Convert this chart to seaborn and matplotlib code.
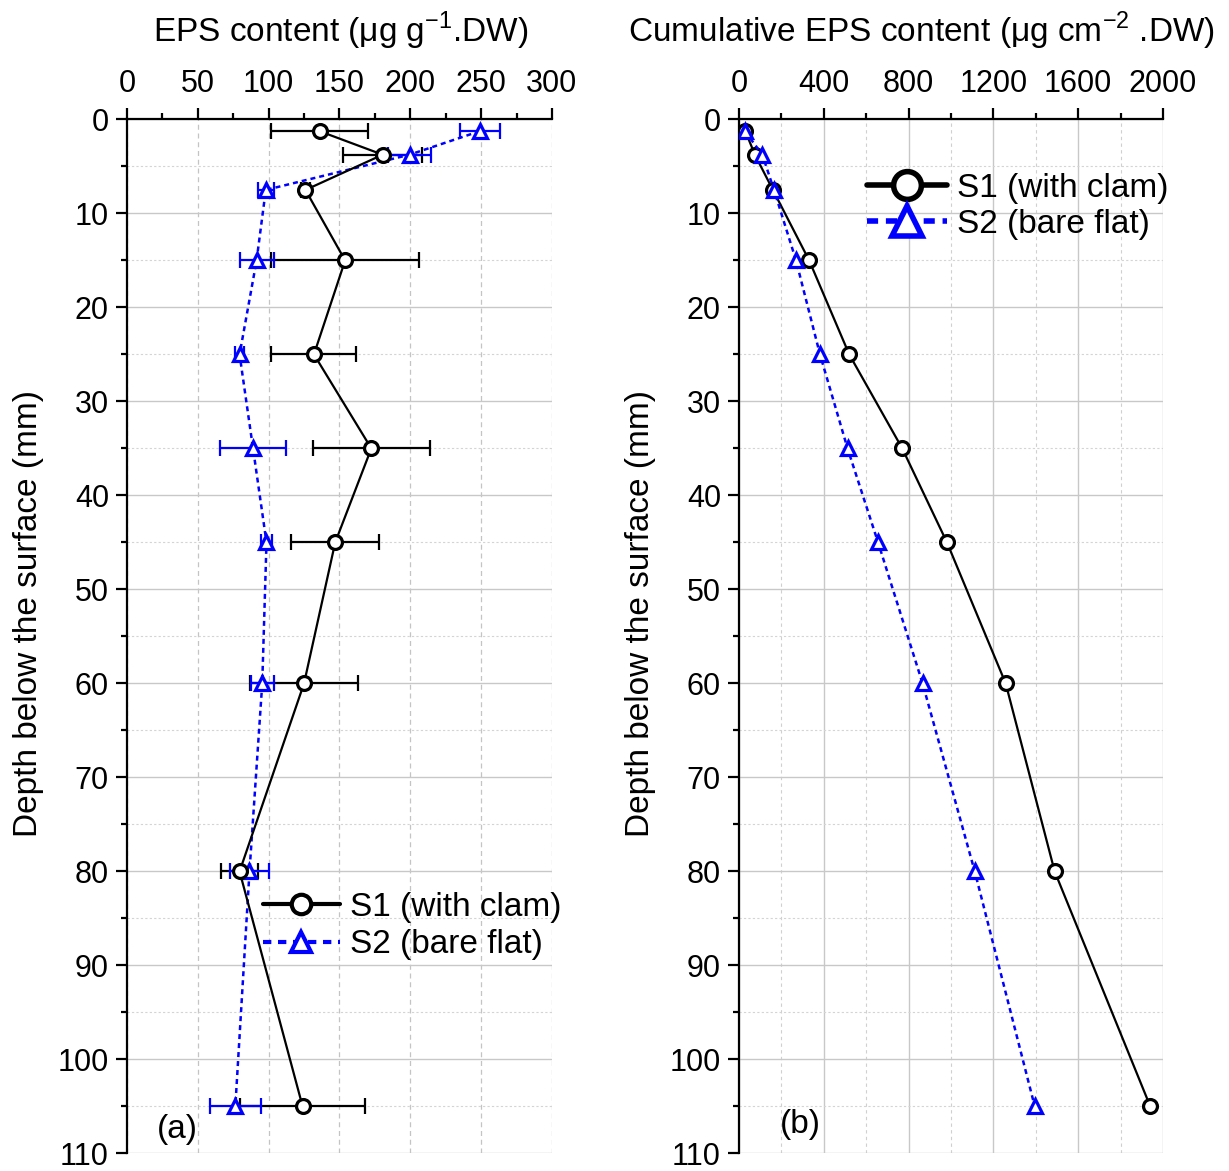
import numpy as np
import pandas as pd
import matplotlib
matplotlib.use("Agg")
import matplotlib.pyplot as plt
from matplotlib.lines import Line2D
from matplotlib.ticker import MultipleLocator
import seaborn as sns

# depth of each sediment layer midpoint (mm)
depth = [1.25, 3.75, 7.5, 15, 25, 35, 45, 60, 80, 105]

# (a) EPS content, ug g-1 DW
s1_eps = [136, 180.5, 126, 154, 132, 172.5, 147, 125, 79.5, 124]
s1_err = [34, 28, 3, 52.5, 30, 41.5, 31, 38, 13, 44]
s2_eps = [249, 199.5, 98, 91.5, 79.5, 89, 98.5, 95.5, 86.5, 76.5]
s2_err = [14, 15, 5.5, 12, 3, 23, 4, 8, 14, 18]

# (b) cumulative EPS content, ug cm-2 DW
s1_cum = [30, 75, 160, 331, 520, 770, 981, 1258, 1489, 1940]
s2_cum = [28, 110, 165, 269, 382, 512, 656, 866, 1112, 1395]

LABEL_S1 = "S1 (with clam)"
LABEL_S2 = "S2 (bare flat)"
BLUE = "#0000ff"
FS = 24       # axis titles, legend, panel letters
FS_TICK = 22  # tick labels

sns.set_style("white")
plt.rcParams["font.family"] = ["Liberation Sans", "DejaVu Sans"]
plt.rcParams["mathtext.fontset"] = "custom"
plt.rcParams["mathtext.rm"] = "Liberation Sans"
plt.rcParams["text.color"] = "black"
plt.rcParams["axes.labelcolor"] = "black"
plt.rcParams["xtick.color"] = "black"
plt.rcParams["ytick.color"] = "black"

df_a = pd.DataFrame({"depth": depth, "s1": s1_eps, "s2": s2_eps})
df_b = pd.DataFrame({"depth": depth, "s1": s1_cum, "s2": s2_cum})

fig = plt.figure(figsize=(12.29, 11.71), dpi=100)
ax1 = fig.add_axes([0.1033, 0.0150, 0.3458, 0.8830])
ax2 = fig.add_axes([0.6013, 0.0150, 0.345, 0.8830])


def style_axis(ax, xmax, xmajor, xminor, dashed_major):
    ax.set_xlim(0, xmax)
    ax.set_ylim(110, 0)
    ax.xaxis.tick_top()
    ax.xaxis.set_label_position("top")
    ax.xaxis.set_major_locator(MultipleLocator(xmajor))
    ax.xaxis.set_minor_locator(MultipleLocator(xminor))
    ax.yaxis.set_major_locator(MultipleLocator(10))
    ax.yaxis.set_minor_locator(MultipleLocator(5))
    for side in ["right", "bottom"]:
        ax.spines[side].set_visible(False)
    for side in ["top", "left"]:
        ax.spines[side].set_linewidth(1.6)
        ax.spines[side].set_color("black")
    ax.tick_params(which="major", direction="out", length=8, width=1.6,
                   labelsize=FS_TICK, pad=5, top=True, left=True,
                   bottom=False, right=False)
    ax.tick_params(axis="x", which="major", pad=7)
    ax.tick_params(which="minor", direction="out", length=4.5, width=1.6,
                   top=True, left=True, bottom=False, right=False)
    ax.grid(which="major", axis="y", color="#c8c8c8", lw=1.0, ls="-")
    ax.grid(which="minor", axis="y", color="#d4d4d4", lw=0.8, ls=(0, (2, 2)))
    if dashed_major:
        ax.grid(which="major", axis="x", color="#c4c4c4", lw=0.9, ls=(0, (4, 3)))
    else:
        ax.grid(which="major", axis="x", color="#c8c8c8", lw=1.0, ls="-")
        ax.grid(which="minor", axis="x", color="#d0d0d0", lw=0.8, ls=(0, (3, 3)))
    ax.set_axisbelow(True)
    ax.set_ylabel("Depth below the surface (mm)", fontsize=FS)
    ax.yaxis.set_label_coords(-0.195, 0.522)


# ---- panel (a) ----
style_axis(ax1, 300, 50, 25, True)
ax1.errorbar(s1_eps, depth, xerr=s1_err, fmt="none", ecolor="black",
             elinewidth=1.6, capsize=5.5, capthick=1.6, zorder=2)
ax1.errorbar(s2_eps, depth, xerr=s2_err, fmt="none", ecolor=BLUE,
             elinewidth=1.6, capsize=5.5, capthick=1.6, zorder=2)
sns.lineplot(data=df_a, x="s1", y="depth", orient="y", ax=ax1, color="black",
             lw=1.6, marker="o", markersize=10, markerfacecolor="white",
             markeredgecolor="black", markeredgewidth=2.3, zorder=4)
sns.lineplot(data=df_a, x="s2", y="depth", orient="y", ax=ax1, color=BLUE,
             lw=1.8, ls=(0, (2, 1.6)), marker="^", markersize=10.5,
             markerfacecolor="white", markeredgecolor=BLUE,
             markeredgewidth=2.3, zorder=3)
ax1.set_xlabel(r"EPS content (μg g$^{-1}$.DW)", fontsize=FS)
ax1.xaxis.set_label_coords(0.503, 1.075)
ax1.text(0.07, 0.023, "(a)", transform=ax1.transAxes, fontsize=FS,
         va="center", ha="left")

h1 = [Line2D([], [], color="black", lw=3, marker="o", markersize=14,
             markerfacecolor="white", markeredgewidth=3),
      Line2D([], [], color=BLUE, lw=3, ls=(0, (2, 1.6)), marker="^", markersize=15,
             markerfacecolor="white", markeredgecolor=BLUE, markeredgewidth=3)]
ax1.legend(h1, [LABEL_S1, LABEL_S2], loc="center left",
           bbox_to_anchor=(0.32, 0.22), frameon=False, fontsize=FS,
           handlelength=2.3, handletextpad=0.3, labelspacing=0.2,
           borderpad=0, borderaxespad=0)

# ---- panel (b) ----
style_axis(ax2, 2000, 400, 200, False)
sns.lineplot(data=df_b, x="s1", y="depth", orient="y", ax=ax2, color="black",
             lw=1.6, marker="o", markersize=10, markerfacecolor="white",
             markeredgecolor="black", markeredgewidth=2.3, zorder=3)
sns.lineplot(data=df_b, x="s2", y="depth", orient="y", ax=ax2, color=BLUE,
             lw=1.8, ls=(0, (2, 1.6)), marker="^", markersize=10.5,
             markerfacecolor="white", markeredgecolor=BLUE,
             markeredgewidth=2.3, zorder=4)
ax2.set_xlabel(r"Cumulative EPS content (μg cm$^{-2}$ .DW)", fontsize=FS)
ax2.xaxis.set_label_coords(0.43, 1.075)
ax2.text(0.097, 0.028, "(b)", transform=ax2.transAxes, fontsize=FS,
         va="center", ha="left")

h2 = [Line2D([], [], color="black", lw=4, marker="o", markersize=20,
             markerfacecolor="white", markeredgewidth=4),
      Line2D([], [], color=BLUE, lw=4, ls=(0, (2, 1.4)), marker="^", markersize=22,
             markerfacecolor="white", markeredgecolor=BLUE, markeredgewidth=4)]
ax2.legend(h2, [LABEL_S1, LABEL_S2], loc="center left",
           bbox_to_anchor=(0.302, 0.916), frameon=False, fontsize=FS,
           handlelength=2.4, handletextpad=0.3, labelspacing=0.15,
           borderpad=0, borderaxespad=0)

fig.savefig("out.png", dpi=100)
